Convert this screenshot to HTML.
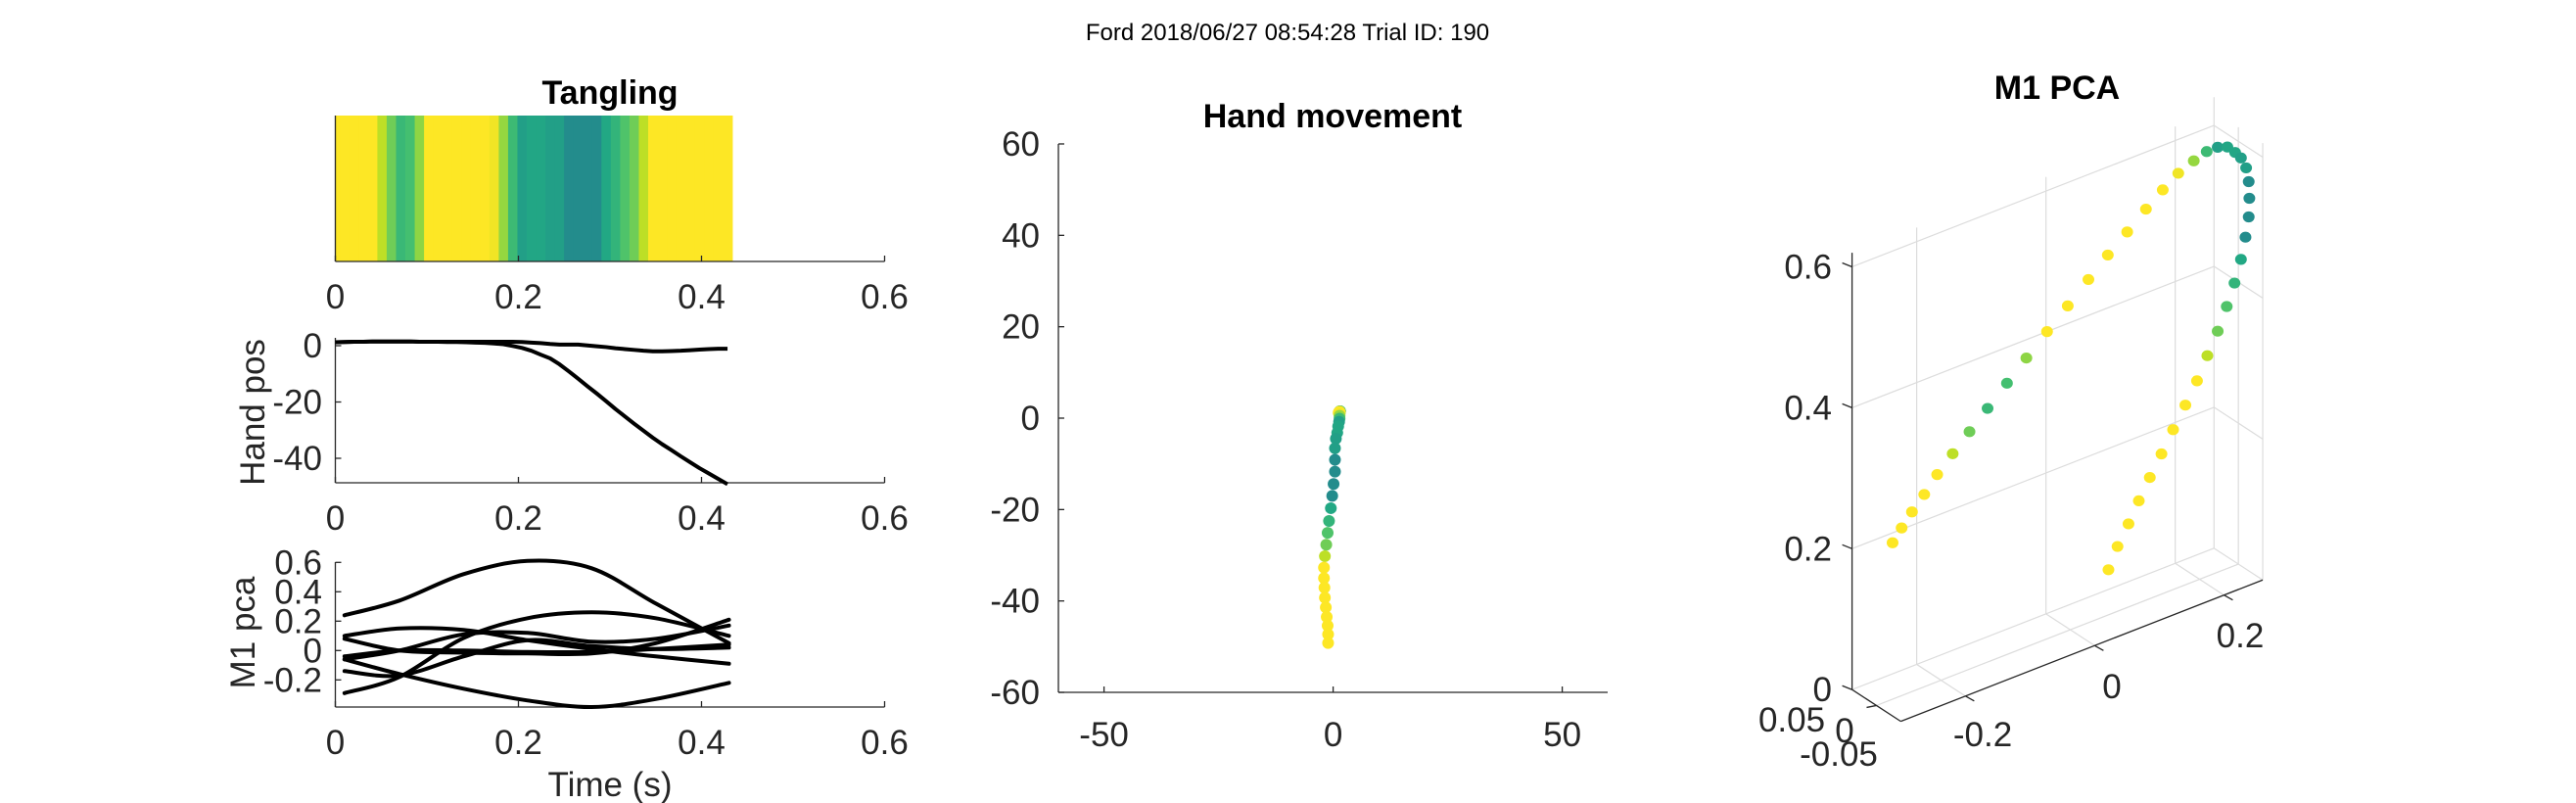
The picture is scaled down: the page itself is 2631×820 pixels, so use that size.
<!DOCTYPE html>
<html><head><meta charset="utf-8"><style>
html,body{margin:0;padding:0;background:#fff;}
svg{display:block;font-family:"Liberation Sans",Arial,sans-serif;}
</style></head><body>
<svg id="fig" width="2631" height="820" viewBox="0 0 2631 820" xmlns="http://www.w3.org/2000/svg">
<text x="1315" y="41" font-size="24" text-anchor="middle" fill="#000">Ford 2018/06/27 08:54:28 Trial ID: 190</text>
<g id="left"></g>
<g id="mid"></g>
<g id="pca"></g>
</svg>
<script>
// ---------- data ----------
const binWidth = 0.0102;
const tangling = [1,1,1,1,1,0.9,0.78,0.67,0.7,0.83,1,1,1,1,1,1,1,0.98,0.84,0.68,0.56,0.59,0.59,0.56,0.56,0.48,0.48,0.48,0.48,0.6,0.65,0.72,0.78,0.9,1,1,1,1,1,1,1,1,1];
const handX = [1.2,1.3,1.4,1.4,1.5,1.5,1.5,1.5,1.5,1.4,1.4,1.4,1.4,1.4,1.4,1.4,1.4,1.4,1.4,1.4,1.3,1.1,0.9,0.6,0.4,0.4,0.4,0.1,-0.2,-0.5,-0.9,-1.2,-1.5,-1.8,-2,-2,-1.9,-1.8,-1.6,-1.4,-1.2,-1.1,-1.1];
const handY = [1.2,1.3,1.4,1.4,1.5,1.5,1.5,1.5,1.5,1.4,1.4,1.4,1.3,1.3,1.2,1.1,1.0,0.8,0.5,-0.1,-0.8,-1.8,-3.2,-4.5,-6.6,-9.1,-11.7,-14.4,-17,-19.7,-22.5,-25.1,-27.7,-30.2,-32.7,-35,-37.1,-39.3,-41.4,-43.5,-45.4,-47.3,-49.2];
const pcaKnots = [0.01,0.07,0.14,0.21,0.28,0.35,0.43];
const pcA = [0.24,0.34,0.52,0.61,0.56,0.32,0.05];
const pcB = [-0.29,-0.18,0.085,0.22,0.26,0.22,0.10];
const pcC = [-0.14,-0.17,-0.04,0.07,0.03,0.01,0.02];
const pcD = [0.10,0.15,0.14,0.07,0.01,-0.04,-0.09];
const pcE = [0.08,0,-0.015,-0.02,-0.02,0.05,0.21];
const pcF = [-0.04,0,0,-0.01,-0.01,0.01,0.04];
const pcG = [-0.06,-0.16,-0.26,-0.34,-0.385,-0.33,-0.22];
const pcH = [-0.06,0,0.11,0.12,0.06,0.08,0.17];
const pca3X = [-0.275,-0.261,-0.245,-0.226,-0.206,-0.182,-0.156,-0.128,-0.098,-0.068,-0.036,-0.004,0.028,0.058,0.088,0.117,0.143,0.167,0.191,0.211,0.228,0.243,0.255,0.264,0.272,0.276,0.277,0.276,0.271,0.264,0.254,0.242,0.228,0.212,0.196,0.178,0.159,0.141,0.123,0.106,0.090,0.073,0.059];
const pca3Z = [0.222,0.238,0.255,0.273,0.294,0.315,0.337,0.360,0.385,0.410,0.436,0.461,0.487,0.511,0.533,0.555,0.573,0.588,0.597,0.603,0.603,0.598,0.586,0.575,0.558,0.537,0.513,0.487,0.460,0.431,0.401,0.372,0.342,0.313,0.283,0.255,0.227,0.199,0.172,0.145,0.118,0.092,0.064];
const pca3Y = [0,0,0,0,0,0,0,0,0,0,0,0,0,0,0,0,0,0,0,0,0,0,0,0,0,0,0,0,0,0,0,0,0,0,0,0,0,0,0,0,0,0,0];
const timeTicks = [0,0.2,0.4,0.6];
const timeTickLabels = ["0","0.2","0.4","0.6"];
const handTicks = [0,-20,-40];
const pcaTicks = [0.6,0.4,0.2,0,-0.2];
const midTicks = [-50,0,50];
const midYTicks = [60,40,20,0,-20,-40,-60];
const z3Ticks = [0,0.2,0.4,0.6];
const x3Ticks = [-0.2,0,0.2];

// ---------- helpers ----------
const NS="http://www.w3.org/2000/svg";
const FS=35;
function mk(parent,tag,attrs,txt){const e=document.createElementNS(NS,tag);for(const k in attrs)e.setAttribute(k,attrs[k]);if(txt!==undefined)e.textContent=txt;parent.appendChild(e);return e;}
const VIR=[[0,[68,1,84]],[0.1,[72,36,117]],[0.2,[65,68,135]],[0.3,[53,95,141]],[0.4,[42,120,142]],[0.5,[33,145,140]],[0.6,[34,168,132]],[0.7,[68,191,112]],[0.8,[122,209,81]],[0.9,[189,223,38]],[1,[253,231,37]]];
function vir(v){v=Math.max(0,Math.min(1,v));for(let i=1;i<VIR.length;i++){if(v<=VIR[i][0]){const a=VIR[i-1],b=VIR[i];const f=(v-a[0])/(b[0]-a[0]);const c=a[1].map((x,j)=>Math.round(x+(b[1][j]-x)*f));return `rgb(${c[0]},${c[1]},${c[2]})`;}}return "rgb(253,231,37)";}
function smooth(pts){let d=`M${pts[0][0]},${pts[0][1]}`;for(let i=0;i<pts.length-1;i++){const p0=pts[Math.max(0,i-1)],p1=pts[i],p2=pts[i+1],p3=pts[Math.min(pts.length-1,i+2)];const c1=[p1[0]+(p2[0]-p0[0])/6,p1[1]+(p2[1]-p0[1])/6],c2=[p2[0]-(p3[0]-p1[0])/6,p2[1]-(p3[1]-p1[1])/6];d+=` C${c1[0]},${c1[1]} ${c2[0]},${c2[1]} ${p2[0]},${p2[1]}`;}return d;}
const AX="#262626";
const times = tangling.map((_,k)=>k*binWidth);

// ---------- left panels ----------
const L=document.getElementById('left');
const tx=t=>342.5+t/0.6*561;
function timeAxis(yb,yt,name){
  const g=mk(L,'g',{});
  
  
  mk(g,'line',{x1:342.5,y1:yb,x2:903.5,y2:yb,stroke:AX,'stroke-width':1.3});
  mk(g,'line',{x1:342.5,y1:yb,x2:342.5,y2:yt,stroke:AX,'stroke-width':1.3});
  timeTicks.forEach((t,i)=>{
    mk(g,'line',{x1:tx(t),y1:yb,x2:tx(t),y2:yb-6,stroke:AX,'stroke-width':1.3});
    const lb=mk(g,'text',{x:tx(t),y:yb+48,'font-size':FS,'text-anchor':'middle',fill:AX},timeTickLabels[i]);
    
    
  });
}
mk(L,'text',{x:623,y:106,'font-size':34,'font-weight':'bold','text-anchor':'middle',fill:'#000',},'Tangling');
tangling.forEach((v,k)=>{
  const a=Math.max(0,(k-0.5)*binWidth),b=(k+0.5)*binWidth;
  const r=mk(L,'rect',{x:tx(a),y:118,width:tx(b)-tx(a)+0.6,height:149,fill:vir(v)});
  
  
});
timeAxis(267,118,'tangling-axes');
const hy=v=>353-v*2.875;
timeAxis(493,345,'hand-pos-axes');
handTicks.forEach(v=>{mk(L,'line',{x1:342.5,y1:hy(v),x2:348.5,y2:hy(v),stroke:AX,'stroke-width':1.3});
  const lb=mk(L,'text',{x:329,y:hy(v)+12,'font-size':FS,'text-anchor':'end',fill:AX},String(v));
  
  });
[handX,handY].forEach((arr,i)=>{
  const p=mk(L,'polyline',{points:arr.map((v,k)=>`${tx(times[k])},${hy(v)}`).join(' '),fill:'none',stroke:'#000','stroke-width':4,'stroke-linejoin':'round'});
  
  
});
mk(L,'text',{x:0,y:0,'font-size':FS,'text-anchor':'middle',fill:AX,transform:'translate(270,421) rotate(-90)',},'Hand pos');
const py=v=>664.3-v*150;
timeAxis(722,574,'m1-pca-axes');
pcaTicks.forEach(v=>{mk(L,'line',{x1:342.5,y1:py(v),x2:348.5,y2:py(v),stroke:AX,'stroke-width':1.3});
  const lb=mk(L,'text',{x:329,y:py(v)+12,'font-size':FS,'text-anchor':'end',fill:AX},String(v));
  
  });
[pcA,pcB,pcC,pcD,pcE,pcF,pcG,pcH].forEach((arr,i)=>{
  const p=mk(L,'path',{d:smooth(arr.map((v,k)=>[tx(pcaKnots[k]),py(v)])),fill:'none',stroke:'#000','stroke-width':4,'stroke-linecap':'round'});
  
  
});
mk(L,'text',{x:0,y:0,'font-size':FS,'text-anchor':'middle',fill:AX,transform:'translate(260,646) rotate(-90)',},'M1 pca');
mk(L,'text',{x:623,y:813,'font-size':FS,'text-anchor':'middle',fill:AX,},'Time (s)');

// ---------- middle panel ----------
const M=document.getElementById('mid');
const mx=v=>1361.6+v*4.68, my=v=>427-v*4.667;
mk(M,'text',{x:1361,y:130,'font-size':34,'font-weight':'bold','text-anchor':'middle',fill:'#000',},'Hand movement');
mk(M,'line',{x1:1081,y1:my(-60),x2:1642,y2:my(-60),stroke:AX,'stroke-width':1.3});
mk(M,'line',{x1:1081,y1:my(-60),x2:1081,y2:my(60),stroke:AX,'stroke-width':1.3});
midTicks.forEach(v=>{mk(M,'line',{x1:mx(v),y1:my(-60),x2:mx(v),y2:my(-60)-6,stroke:AX,'stroke-width':1.3});
  const lb=mk(M,'text',{x:mx(v),y:762,'font-size':FS,'text-anchor':'middle',fill:AX},String(v));
  
  });
midYTicks.forEach(v=>{mk(M,'line',{x1:1081,y1:my(v),x2:1087,y2:my(v),stroke:AX,'stroke-width':1.3});
  const lb=mk(M,'text',{x:1062,y:my(v)+12,'font-size':FS,'text-anchor':'end',fill:AX},String(v));
  
  });
handX.forEach((v,k)=>{
  const c=mk(M,'circle',{cx:mx(v),cy:my(handY[k]),r:6,fill:vir(tangling[k])});
  
  
});

// ---------- 3D PCA panel ----------
const G=document.getElementById('pca');
function P(x,d,z){const X=500+1725*(x+0.3)-130*d, Y=1398-525*(x+0.3)-1465*z-66*d;return [1750+X/2.613,50+Y/2.036];}
const dOf=y=>(y+0.05)/0.1;
const X0=-0.3,X1=0.26,Z1=0.62;
function seg(a,b,col,w,name){const l=mk(G,'line',{x1:a[0],y1:a[1],x2:b[0],y2:b[1],stroke:col,'stroke-width':w});if(name){}return l;}
const GR="#dcdcdc";
x3Ticks.forEach(x=>{seg(P(x,1,0),P(x,1,Z1),GR,1.2,'grid-line');seg(P(x,0,0),P(x,1,0),GR,1.2,'grid-line');});
z3Ticks.slice(1).forEach(z=>{seg(P(X0,1,z),P(X1,1,z),GR,1.2,'grid-line');seg(P(X1,1,z),P(X1,0,z),GR,1.2,'grid-line');});
seg(P(X0,0.5,0),P(X1,0.5,0),GR,1.2,'grid-line');
seg(P(X1,0.5,0),P(X1,0.5,Z1),GR,1.2,'grid-line');
seg(P(X1,1,0),P(X1,1,Z1+0.02),GR,1.2,'grid-line');
seg(P(X1,0,0),P(X1,0,Z1),GR,1.2,'grid-line');
seg(P(X1,1,0),P(X1,0,0),GR,1.2,'grid-line');
seg(P(X0,1,0),P(X1,1,0),GR,1.2,'grid-line');
seg(P(X0,1,0),P(X0,1,Z1),AX,1.3,'z-axis');
seg(P(X0,0,0),P(X1,0,0),AX,1.3,'x-axis');
seg(P(X0,0,0),P(X0,1,0),AX,1.3,'depth-axis');
z3Ticks.forEach(z=>{const a=P(X0,1,z);seg(a,[a[0]-10,a[1]-4],AX,1.3);
  const lb=mk(G,'text',{x:1871,y:a[1]+12,'font-size':FS,'text-anchor':'end',fill:AX},String(z));
  
  });
const x3Lab=[[2025,762],[2157,713],[2288,661]];
x3Ticks.forEach((x,i)=>{const a=P(x,0,0);seg(a,[a[0]+9,a[1]+5],AX,1.3);
  const lb=mk(G,'text',{x:x3Lab[i][0],y:x3Lab[i][1],'font-size':FS,'text-anchor':'middle',fill:AX},String(x));
  
  });
seg(P(X0,0.5,0),[P(X0,0.5,0)[0]-10,P(X0,0.5,0)[1]+2],AX,1.3);
mk(G,'text',{x:1830,y:747,'font-size':FS,'text-anchor':'middle',fill:AX,},'0.05');
mk(G,'text',{x:1884,y:758,'font-size':FS,'text-anchor':'middle',fill:AX,},'0');
mk(G,'text',{x:1878,y:782,'font-size':FS,'text-anchor':'middle',fill:AX,},'-0.05');
mk(G,'text',{x:2101,y:101,'font-size':34,'font-weight':'bold','text-anchor':'middle',fill:'#000',},'M1 PCA');
pca3X.forEach((x,k)=>{
  const p=P(x,dOf(pca3Y[k]),pca3Z[k]);
  const c=mk(G,'ellipse',{cx:p[0],cy:p[1],rx:6,ry:5.6,fill:vir(tangling[k])});
  
  
});
</script>
</body></html>
